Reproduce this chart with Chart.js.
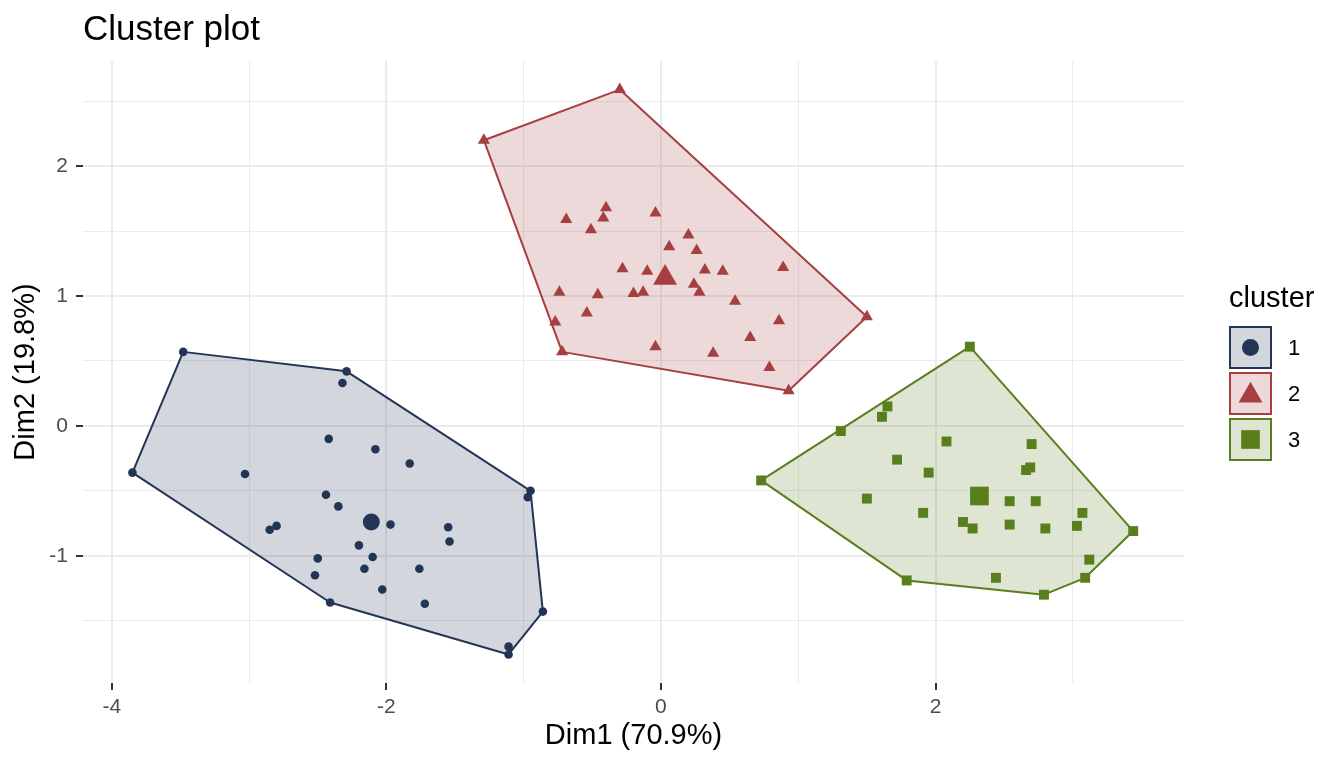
<!DOCTYPE html>
<html>
<head>
<meta charset="utf-8">
<title>Cluster plot</title>
<script src="https://cdn.jsdelivr.net/npm/chart.js@4.4.1/dist/chart.umd.min.js"></script>
<style>
  html, body { margin: 0; padding: 0; background: #fff; }
  #wrap { width: 1344px; height: 768px; }
</style>
</head>
<body>
<div id="wrap"><canvas id="cluster-chart" width="1344" height="768"></canvas></div>
<script>
// ── Data ─────────────────────────────────────────────────
const clusterNames = ['1', '2', '3'];
const clusterColors = ['#233554', '#A53F40', '#587F1C'];
const clusterFills = ['rgba(35,53,84,0.2)', 'rgba(165,63,64,0.2)', 'rgba(88,127,28,0.2)'];
const clusterShapes = ['circle', 'triangle', 'rect'];

const c1Dim1 = [-3.48, -2.29, -2.32, -3.85, -2.42, -2.08, -3.03, -2.44, -2.35, -2.80, -2.85, -2.20, -2.10, -2.50, -2.16, -2.52, -2.41, -1.83, -1.97, -1.55, -1.54, -1.76, -2.03, -1.72, -0.95, -0.97, -0.86, -1.11, -1.11];
const c1Dim2 = [0.57, 0.42, 0.33, -0.36, -0.10, -0.18, -0.37, -0.53, -0.62, -0.77, -0.80, -0.92, -1.01, -1.02, -1.10, -1.15, -1.36, -0.29, -0.76, -0.78, -0.89, -1.10, -1.26, -1.37, -0.50, -0.55, -1.43, -1.70, -1.76];

const c2Dim1 = [-0.30, -1.29, 1.50, 0.93, -0.72, -0.77, -0.69, -0.40, -0.42, -0.51, -0.04, 0.20, 0.06, 0.26, -0.28, -0.10, 0.32, 0.45, 0.89, -0.74, -0.46, -0.20, -0.13, 0.24, 0.28, 0.54, -0.54, 0.86, 0.65, -0.04, 0.38, 0.79];
const c2Dim2 = [2.59, 2.20, 0.84, 0.27, 0.57, 0.80, 1.59, 1.68, 1.60, 1.51, 1.64, 1.47, 1.38, 1.35, 1.21, 1.19, 1.20, 1.19, 1.22, 1.03, 1.01, 1.02, 1.03, 1.09, 1.03, 0.96, 0.87, 0.81, 0.68, 0.61, 0.56, 0.45];

const c3Dim1 = [2.25, 0.73, 1.31, 1.65, 1.61, 2.08, 2.70, 1.72, 1.95, 2.69, 2.66, 1.50, 2.54, 2.73, 1.91, 3.07, 2.20, 2.27, 2.54, 2.80, 3.03, 3.44, 3.12, 3.09, 2.44, 1.79, 2.79];
const c3Dim2 = [0.61, -0.42, -0.04, 0.15, 0.07, -0.12, -0.14, -0.26, -0.36, -0.32, -0.34, -0.56, -0.58, -0.58, -0.67, -0.67, -0.74, -0.79, -0.76, -0.79, -0.77, -0.81, -1.03, -1.17, -1.17, -1.19, -1.30];

// cluster centres (big markers)
const centerDim1 = [-2.11, 0.03, 2.32];
const centerDim2 = [-0.74, 1.14, -0.54];

const xLabel = 'Dim1 (70.9%)';
const yLabel = 'Dim2 (19.8%)';

// ── Helpers ─────────────────────────────────
const FONT = '"Liberation Sans", Arial, Helvetica, sans-serif';
Chart.defaults.font.family = FONT;

function toPoints(xs, ys) {
  return xs.map((x, i) => ({ x: x, y: ys[i] }));
}

// convex hull (monotone chain), closed by repeating the first point
function hull(points) {
  const p = points.slice().sort((a, b) => a.x - b.x || a.y - b.y);
  const cross = (o, a, b) => (a.x - o.x) * (b.y - o.y) - (a.y - o.y) * (b.x - o.x);
  const lower = [], upper = [];
  p.forEach(pt => {
    while (lower.length >= 2 && cross(lower[lower.length - 2], lower[lower.length - 1], pt) <= 0) lower.pop();
    lower.push(pt);
  });
  p.slice().reverse().forEach(pt => {
    while (upper.length >= 2 && cross(upper[upper.length - 2], upper[upper.length - 1], pt) <= 0) upper.pop();
    upper.push(pt);
  });
  const h = lower.slice(0, -1).concat(upper.slice(0, -1));
  h.push(h[0]);
  return h;
}

const clusterPoints = [toPoints(c1Dim1, c1Dim2), toPoints(c2Dim1, c2Dim2), toPoints(c3Dim1, c3Dim2)];
const smallRadius = [4.3, 7, 7];
const bigRadius = [8.5, 13.8, 13.2];

const datasets = [];
clusterPoints.forEach((pts, i) => {
  datasets.push({
    type: 'line', label: 'hull ' + clusterNames[i], data: hull(pts),
    borderColor: clusterColors[i], backgroundColor: clusterFills[i], borderWidth: 2,
    borderJoinStyle: 'round', fill: 'shape', tension: 0, pointRadius: 0, order: 3
  });
  datasets.push({
    type: 'scatter', label: clusterNames[i], data: pts,
    pointStyle: clusterShapes[i], pointRadius: smallRadius[i], pointBorderWidth: 0,
    backgroundColor: clusterColors[i], borderColor: clusterColors[i], order: 2
  });
  datasets.push({
    type: 'scatter', label: 'centre ' + clusterNames[i], data: [{ x: centerDim1[i], y: centerDim2[i] }],
    pointStyle: clusterShapes[i], pointRadius: bigRadius[i], pointBorderWidth: 0,
    backgroundColor: clusterColors[i], borderColor: clusterColors[i], order: 1
  });
});

// ── Title + ggplot-like legend ─────────────────
const plotTitle = {
  id: 'plotTitle',
  afterDraw(chart) {
    const c = chart.ctx;
    c.save();
    c.font = '35px ' + FONT;
    c.fillStyle = '#000';
    c.textBaseline = 'alphabetic';
    c.fillText('Cluster plot', chart.chartArea.left, 40);
    c.restore();
  }
};

const clusterLegend = {
  id: 'clusterLegend',
  afterDraw(chart) {
    const c = chart.ctx;
    const x0 = chart.chartArea.right + 45;
    c.save();
    c.fillStyle = '#000';
    c.font = '29px ' + FONT;
    c.textBaseline = 'alphabetic';
    c.fillText('cluster', x0, 307);
    clusterNames.forEach((name, i) => {
      const top = 326 + i * 46, size = 43;
      c.fillStyle = clusterFills[i];
      c.fillRect(x0, top, size, size);
      c.strokeStyle = clusterColors[i];
      c.lineWidth = 2;
      c.strokeRect(x0 + 1, top + 1, size - 2, size - 2);
      c.fillStyle = clusterColors[i];
      Chart.helpers.drawPoint(c, { pointStyle: clusterShapes[i], radius: bigRadius[i], rotation: 0, borderWidth: 0 },
        x0 + size / 2, top + size / 2 + (clusterShapes[i] === 'triangle' ? 2 : 0));
      c.fillStyle = '#000';
      c.font = '22px ' + FONT;
      c.textBaseline = 'middle';
      c.fillText(name, x0 + 59, top + size / 2 + 1);
    });
    c.restore();
  }
};

// ── Chart ─────────────────────────────────
const isMajorX = v => v % 2 === 0;
const isMajorY = v => Number.isInteger(v);

new Chart(document.getElementById('cluster-chart').getContext('2d'), {
  type: 'scatter',
  data: { datasets: datasets },
  options: {
    responsive: false, animation: false,
    layout: { padding: { top: 61, right: 160, left: 0, bottom: 0 } },
    plugins: { legend: { display: false }, tooltip: { enabled: false }, title: { display: false } },
    scales: {
      x: {
        type: 'linear', min: -4.21, max: 3.81,
        border: { display: false },
        grid: {
          color: '#EBEBEB',
          lineWidth: c => (c.tick && isMajorX(c.tick.value)) ? 2 : 1,
          tickLength: 7,
          tickWidth: 2,
          tickColor: c => (c.tick && isMajorX(c.tick.value)) ? '#333333' : 'rgba(0,0,0,0)'
        },
        ticks: {
          stepSize: 1, includeBounds: false, autoSkip: false, maxRotation: 0, padding: 5,
          color: '#4D4D4D', font: { size: 21 },
          callback: v => isMajorX(v) ? String(v) : ''
        },
        title: { display: true, text: xLabel, color: '#000', font: { size: 29 }, padding: { top: 0, bottom: 15 } },
        afterFit: s => { s.height = 85; }
      },
      y: {
        type: 'linear', min: -1.98, max: 2.81,
        border: { display: false },
        grid: {
          color: '#EBEBEB',
          lineWidth: c => (c.tick && isMajorY(c.tick.value)) ? 2 : 1,
          tickLength: 7,
          tickWidth: 2,
          tickColor: c => (c.tick && isMajorY(c.tick.value)) ? '#333333' : 'rgba(0,0,0,0)'
        },
        ticks: {
          stepSize: 0.5, includeBounds: false, autoSkip: false, padding: 8,
          color: '#4D4D4D', font: { size: 21 },
          callback: v => isMajorY(v) ? String(v) : ''
        },
        title: { display: true, text: yLabel, color: '#000', font: { size: 29 }, padding: { top: 9, bottom: 0 } },
        afterFit: s => { s.width = 83; }
      }
    }
  },
  plugins: [plotTitle, clusterLegend]
});
</script>
</body>
</html>
